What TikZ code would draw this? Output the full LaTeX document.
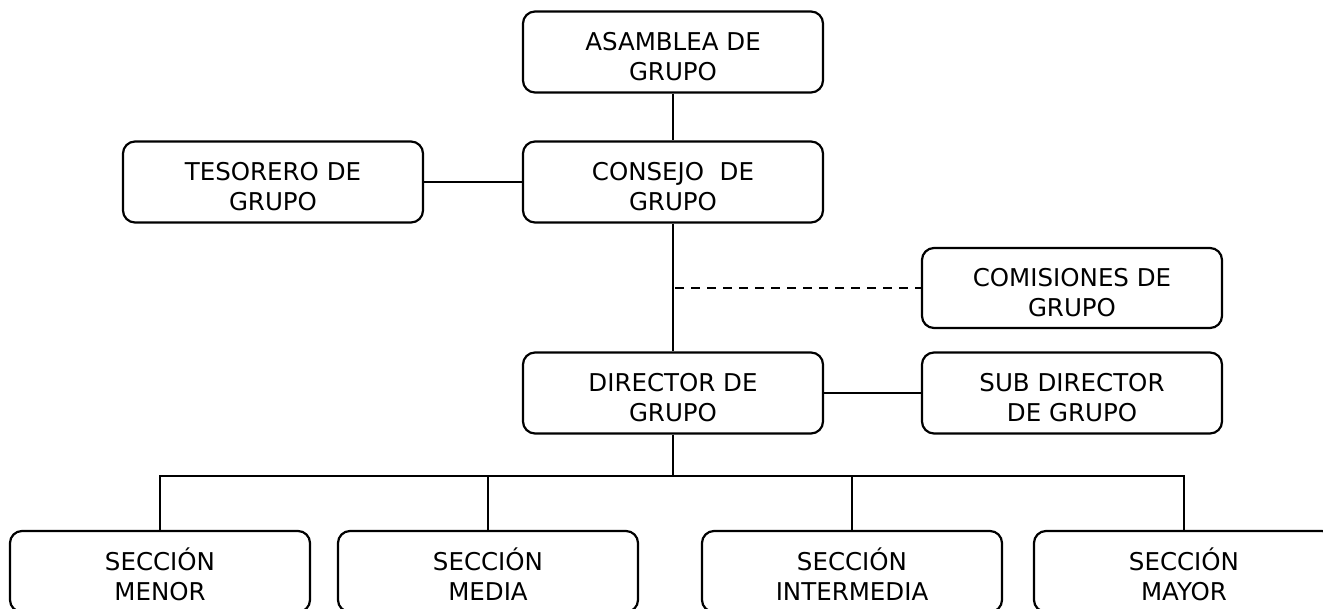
\documentclass[tikz,border=0pt]{standalone}
\usepackage{fontspec}
\setmainfont{DejaVu Sans}
\begin{document}
\begin{tikzpicture}[x=1pt,y=-1pt,
  box/.style={draw=black, line width=2.2pt, rounded corners=12pt, fill=white,
    minimum width=300pt, minimum height=81pt, align=center, inner sep=0pt,
    text height=58pt, text depth=0pt,
    font=\fontsize{24.5}{30}\selectfont},
  sbox/.style={box, minimum width=300pt},
  conn/.style={draw=black, line width=2.2pt},
  dconn/.style={conn, dash pattern=on 9pt off 7pt}]
\fill[white] (0,0) rectangle (1323,609);
\useasboundingbox (0,0) rectangle (1323,609);
\begin{scope}
\clip (0,0) rectangle (1323,609);
\node[box] (asam) at (673,52) {ASAMBLEA DE\\GRUPO};
\node[box] (cons) at (673,182) {CONSEJO\ \ DE\\GRUPO};
\node[box] (teso) at (273,182) {TESORERO DE\\GRUPO};
\node[box, minimum height=80pt] (com) at (1072,288) {COMISIONES DE\\GRUPO};
\node[box] (dir) at (673,393) {DIRECTOR DE\\GRUPO};
\node[box] (sub) at (1072,393) {SUB DIRECTOR\\DE GRUPO};
\node[sbox] (menor) at (160,571.5) {SECCIÓN\\MENOR};
\node[sbox] (media) at (488,571.5) {SECCIÓN\\MEDIA};
\node[sbox] (inter) at (852,571.5) {SECCIÓN\\INTERMEDIA};
\node[sbox] (mayor) at (1184,571.5) {SECCIÓN\\MAYOR};
\coordinate (bus) at (673,476);
\coordinate (dj) at (675,288);
\draw[conn] (asam.south) -- (cons.north);
\draw[conn] (teso.east) -- (cons.west);
\draw[conn] (cons.south) -- (dir.north);
\draw[dconn] (dj) -- (com.west);
\draw[conn] (dir.east) -- (sub.west);
\draw[conn] (dir.south) -- (bus);
\draw[conn] (menor.north) -- (menor.north |- bus) -- (mayor.north |- bus) -- (mayor.north);
\draw[conn] (media.north) -- (media.north |- bus);
\draw[conn] (inter.north) -- (inter.north |- bus);
\end{scope}
\end{tikzpicture}
\end{document}
